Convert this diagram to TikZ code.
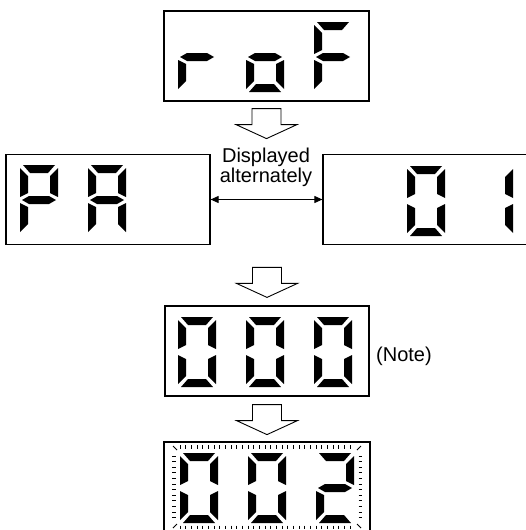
\documentclass[tikz,border=0pt]{standalone}
\usepackage{fontspec}
\setmainfont{Liberation Sans}
\usetikzlibrary{arrows.meta,calc}
\newcommand\dsega{\fill (3,0)--(35,0)--(28,8)--(10,8)--cycle;}
\newcommand\dsegb{\fill (38,3)--(38,32)--(30,28)--(30,11)--cycle;}
\newcommand\dsegc{\fill (38,38)--(38,67)--(30,59)--(30,42)--cycle;}
\newcommand\dsegd{\fill (3,70)--(35,70)--(28,62)--(10,62)--cycle;}
\newcommand\dsege{\fill (0,38)--(8,42)--(8,59)--(0,67)--cycle;}
\newcommand\dsegf{\fill (0,3)--(8,11)--(8,28)--(0,32)--cycle;}
\newcommand\dsegg{\fill (2,35)--(9,31)--(29,31)--(36,35)--(29,39)--(9,39)--cycle;}
\newcommand\sevdigit[3]{\begin{scope}[shift={(#1,#2)}]\foreach \s in {#3}{\csname dseg\s\endcsname}\end{scope}}
\tikzset{
  dispbox/.style={draw, line width=1.2pt, rectangle, inner sep=0pt, minimum width=205pt, minimum height=90pt},
  lbl/.style={inner sep=0pt, font=\fontsize{20}{18}\selectfont},
  dbl/.style={line width=0.9pt, {Triangle[length=8pt,width=7pt]}-{Triangle[length=8pt,width=7pt]}},
  tick/.style={line width=0.8pt},
  blkarrow/.pic={\draw[line width=0.9pt, fill=white] (-14.5,0) -- (14.5,0) -- (14.5,16) -- (30.5,16) -- (0,30) -- (-30.5,16) -- (-14.5,16) -- cycle;}
}
\begin{document}
\begin{tikzpicture}[x=1pt, y=-1pt]
\clip (0,0) rectangle (526,530);
\fill[white] (0,0) rectangle (526,530);
% boxes
\node[dispbox] (rof) at (266.5,56) {};
\node[dispbox, minimum width=204pt] (pa) at (108,199.5) {};
\node[dispbox] (o1) at (425.5,199.5) {};
\node[dispbox, minimum width=204pt] (nnn) at (267,351) {};
\node[dispbox, minimum width=206pt] (blink) at (267,487) {};
% digits
\sevdigit{178}{22}{e,g}
\sevdigit{246}{22}{c,d,e,g}
\sevdigit{314}{22}{a,e,f,g}
\sevdigit{20}{165}{a,b,e,f,g}
\sevdigit{88}{165}{a,b,c,e,f,g}
\sevdigit{407}{166}{a,b,c,d,e,f}
\sevdigit{475}{166}{b,c}
\sevdigit{178}{317}{a,b,c,d,e,f}
\sevdigit{246}{317}{a,b,c,d,e,f}
\sevdigit{314}{317}{a,b,c,d,e,f}
\sevdigit{180}{453}{a,b,c,d,e,f}
\sevdigit{248}{453}{a,b,c,d,e,f}
\sevdigit{316}{453}{a,b,g,e,d}
% blink ticks
\foreach \i in {0,...,30} {
  \draw[tick] ({180+\i*5.67},445) -- ++(0,3.5);
  \draw[tick] ({180+\i*5.67},525.5) -- ++(0,3.5);
}
\foreach \j in {0,...,11} {
  \draw[tick] (172,{456+\j*5.6}) -- ++(3.5,0);
  \draw[tick] (358.5,{456+\j*5.6}) -- ++(3.5,0);
}
\draw[tick] (173,446) -- (177,450);
\draw[tick] (361,446) -- (357,450);
\draw[tick] (357,524) -- (361,528);
\draw[tick] (177,524) -- (173,528);
% block arrows
\pic at ($(rof.south)+(0,7)$) {blkarrow};
\pic at ($(nnn.north)+(0,-38)$) {blkarrow};
\pic at ($(nnn.south)+(0,8)$) {blkarrow};
% alternate display
\draw[dbl] (pa.east) -- (o1.west);
\node[lbl, align=center, anchor=base] (disp) at (266,182) {Displayed\\alternately};
\node[lbl, anchor=base west] (note) at (376,361) {(Note)};
\end{tikzpicture}
\end{document}
